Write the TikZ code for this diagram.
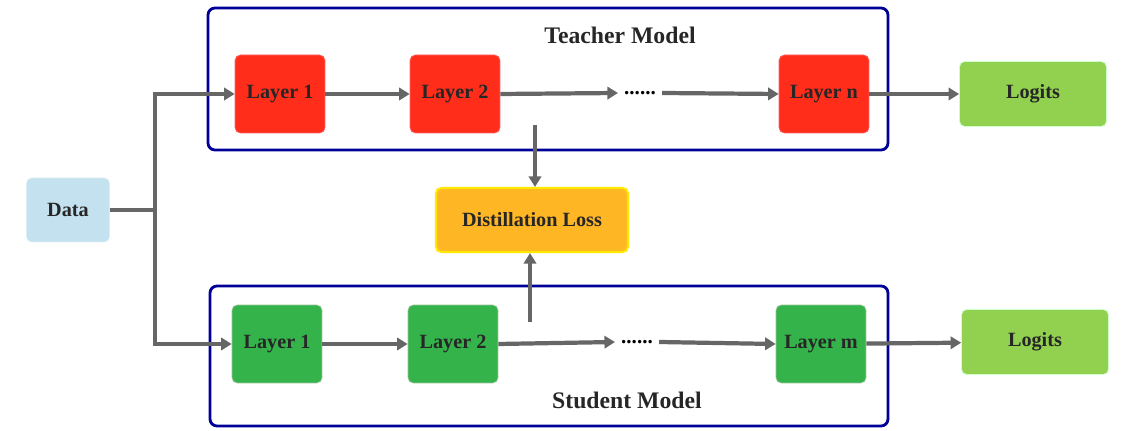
\documentclass[tikz,border=0pt]{standalone}
\usepackage{fontspec}
\setmainfont{Liberation Serif}
\usetikzlibrary{arrows.meta}
\begin{document}
\begin{tikzpicture}[x=0.02cm,y=-0.02cm,
  box/.style={rounded corners=3pt,inner sep=0pt,font=\bfseries\fontsize{11.5}{13}\selectfont,text=black!85},
  layerT/.style={box,fill=red!85!orange!95!black,draw=red!60,minimum width=1.8cm,minimum height=1.56cm},
  layerS/.style={box,fill=green!60!black!80!cyan!90,draw=green!40!black!40,minimum width=1.8cm,minimum height=1.56cm},
  logit/.style={box,fill=green!45!lime!60!yellow!80!black!90,draw=green!20,minimum width=2.94cm,minimum height=1.3cm},
  frame/.style={draw=blue!60!black,line width=1.6pt,rounded corners=4pt},
  con/.style={draw=gray!80!black,line width=2.4pt},
  arr/.style={con,-{Triangle[length=6pt,width=7pt]}},
  title/.style={font=\bfseries\fontsize{13.5}{15}\selectfont,text=black!85}]
\useasboundingbox (0,0) rectangle (1130,431);
\draw[frame] (208,8) rectangle (888,150);
\draw[frame] (210,286) rectangle (888,426);
\node[title] (tt) at (620,35) {Teacher Model};
\node[title] (st) at (627,400) {Student Model};
\definecolor{lred}{HTML}{FF2D19}
\definecolor{sgreen}{HTML}{33B34A}
\definecolor{lgreen}{HTML}{92D050}
\definecolor{dblue}{HTML}{C4E1EF}
\definecolor{lorange}{HTML}{FFB625}
\tikzset{layerT/.append style={fill=lred},layerS/.append style={fill=sgreen},logit/.append style={fill=lgreen}}
\node[layerT] (t1) at (280,94) {Layer 1};
\node[layerT] (t2) at (455,94) {Layer 2};
\node[layerT] (tn) at (824,94) {Layer n};
\node[font=\bfseries\fontsize{12}{13}\selectfont] (td) at (640,93) {......};
\node[logit] (tl) at (1033,94) {Logits};
\node[layerS] (s1) at (277,344) {Layer 1};
\node[layerS] (s2) at (453,344) {Layer 2};
\node[layerS] (sm) at (821,344) {Layer m};
\node[font=\bfseries\fontsize{12}{13}\selectfont] (sd) at (637,342) {......};
\node[logit] (sl) at (1035,342) {Logits};
\node[box,fill=dblue,draw=dblue!60,minimum width=1.66cm,minimum height=1.28cm] (data) at (68,210) {Data};
\node[box,fill=lorange,draw=yellow!90!orange,line width=1.2pt,minimum width=3.84cm,minimum height=1.28cm] (loss) at (532,220) {Distillation Loss};
\coordinate (j) at (155,210);
\draw[con] (data.east) -- (j);
\draw[arr] (j) |- (t1.west);
\draw[arr] (j) |- (s1.west);
\draw[arr] (t1) -- (t2);
\draw[arr] (t2.east) -- (td.west);
\draw[arr] (td.east) -- (tn.west);
\draw[arr] (tn) -- (tl);
\draw[arr] (s1) -- (s2);
\draw[arr] (s2.east) -- (sd.west);
\draw[arr] (sd.east) -- (sm.west);
\draw[arr] (sm) -- (sl);
\coordinate (ta) at (535,125);
\coordinate (sa) at (530,322);
\draw[arr] (ta) -- (ta|-loss.north);
\draw[arr] (sa) -- (sa|-loss.south);
\end{tikzpicture}
\end{document}
